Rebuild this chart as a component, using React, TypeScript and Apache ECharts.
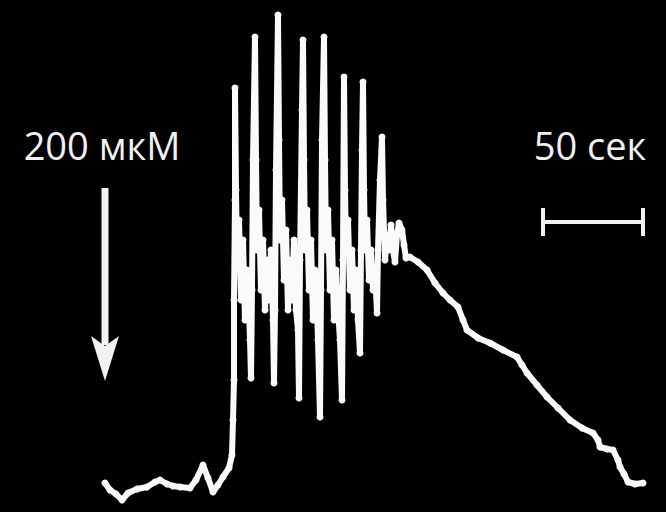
import React, { useEffect, useRef } from "react";
import * as echarts from "echarts";

// time in seconds (0 = start of record), fluorescence signal in arbitrary units
const baselineT = [0, 2.5, 5.5, 8.5, 11.5, 16, 21, 25, 27.5, 31, 34, 37.5, 42.5, 45.5, 49, 51.5, 54, 56.5, 59, 62, 63.5, 64, 64.5, 64.5, 65, 65];
const baselineV = [7, 0, -4, -10, -3, 1, 3, 8, 10, 6, 4, 3, 2, 10, 25, 12, -2, 5, 13, 22, 35, 70, 110, 190, 290, 402];

const oscT = [
  65.5, 66, 67, 68, 69, 70, 71, 72, 72.5, 73, 73.5, 74, 75,
  75.5, 76, 77, 78, 79, 80, 81, 82, 83, 84, 84.5, 85, 85.5, 86.5,
  87, 87.5, 88.5, 89.5, 90.5, 91.5, 92.5, 93.5, 94.5, 95.5, 96.5, 97, 97.5, 98.5, 99,
  99.5, 100, 101, 102, 103, 104, 105, 106, 106.5, 107.5, 108, 108.5, 109.5,
  110, 110.5, 111.5, 112.5, 113.5, 114.5, 115.5, 116.5, 117.5, 118.5, 119, 119.5,
  120, 120.5, 121.5, 122.5, 123.5, 124.5, 125.5, 126.5, 127.5, 128, 128.5, 129,
  129.5, 130, 131, 132, 133, 134, 135, 136, 136.5, 137.5, 138.5,
  139, 140, 141, 142, 143, 144, 145, 146, 147, 148.5, 149.5, 150.5, 152.5,
];
const oscV = [
  300, 230, 270, 190, 250, 170, 220, 180, 150, 112, 200, 330, 453,
  330, 240, 280, 200, 250, 180, 230, 190, 240, 170, 107, 180, 320, 475,
  350, 250, 290, 210, 260, 180, 230, 190, 250, 180, 160, 92, 230, 380, 450,
  330, 240, 280, 200, 250, 170, 220, 180, 150, 73, 200, 350, 453,
  330, 240, 280, 200, 250, 170, 220, 180, 150, 90, 230, 413,
  300, 240, 270, 200, 240, 180, 220, 170, 137, 240, 340, 408,
  300, 240, 270, 210, 240, 200, 220, 177, 240, 310, 353,
  290, 230, 255, 240, 265, 240, 228, 255, 267, 260, 245, 232, 233,
];

const decayT = [156.5, 161, 165, 169, 172.5, 176.5, 179, 181, 186.5, 192.5, 199, 206, 208.5, 211, 216, 221, 226.5, 232.5, 238.5, 244, 246.5, 247.5, 251, 254, 256.5, 257.5, 259.5, 261.5, 265, 269];
const decayV = [228, 220, 207, 197, 190, 183, 170, 160, 152, 147, 140, 133, 125, 117, 105, 93, 82, 70, 62, 57, 50, 43, 41, 40, 30, 23, 16, 8, 6, 7];

// annotations
const doseLabel = "200 мкМ";
const scaleLabel = "50 сек";
const scaleStart = 219; // s
const scaleLength = 50; // s
const scaleLevel = 268;
const scaleCap = 14;

export default function App() {
  const ref = useRef<HTMLDivElement>(null);
  useEffect(() => {
    document.body.style.margin = "0";
    document.body.style.background = "#000";
    const chart = echarts.init(ref.current!, undefined, { renderer: "svg" });
    const trace: number[][] = [];
    baselineT.forEach((t, i) => trace.push([t, baselineV[i]]));
    oscT.forEach((t, i) => trace.push([t, oscV[i]]));
    decayT.forEach((t, i) => trace.push([t, decayV[i]]));
    const s0 = scaleStart;
    const s1 = scaleStart + scaleLength;
    const barStyle = { color: "#f2f2f2", width: 4 };
    const mkBar = (data: number[][]) => ({
      type: "line",
      data,
      showSymbol: false,
      silent: true,
      lineStyle: barStyle,
      itemStyle: { color: "#f2f2f2" },
    });
    chart.setOption({
      animation: false,
      backgroundColor: "#000",
      grid: { left: 0, right: 0, top: 0, bottom: 0 },
      xAxis: { type: "value", min: -52.5, max: 280.5, show: false },
      yAxis: { type: "value", min: -22, max: 490, show: false },
      series: [
        {
          type: "line",
          data: trace,
          symbol: "circle",
          symbolSize: 7,
          showSymbol: true,
          itemStyle: { color: "#fafafa" },
          lineStyle: { color: "#fafafa", width: 6, join: "round", cap: "round" },
          silent: true,
        },
        mkBar([[s0, scaleLevel], [s1, scaleLevel]]),
        mkBar([[s0, scaleLevel - scaleCap], [s0, scaleLevel + scaleCap]]),
        mkBar([[s1, scaleLevel - scaleCap], [s1, scaleLevel + scaleCap]]),
      ],
      graphic: [
        {
          type: "text",
          x: 102,
          y: 145,
          style: {
            text: doseLabel,
            fill: "#f0f0f0",
            font: '38px "Open Sans"',
            align: "center",
            verticalAlign: "middle",
          },
        },
        {
          type: "text",
          x: 590,
          y: 145,
          style: {
            text: scaleLabel,
            fill: "#f0f0f0",
            font: '38px "Open Sans"',
            align: "center",
            verticalAlign: "middle",
          },
        },
        {
          type: "line",
          shape: { x1: 105, y1: 188, x2: 105, y2: 345 },
          style: { stroke: "#f2f2f2", lineWidth: 7 },
        },
        {
          type: "polygon",
          shape: { points: [[91, 336], [105, 346], [119, 336], [105, 381]] },
          style: { fill: "#f2f2f2" },
        },
      ],
    });
    return () => chart.dispose();
  }, []);
  return <div ref={ref} style={{ width: 666, height: 512 }} />;
}
